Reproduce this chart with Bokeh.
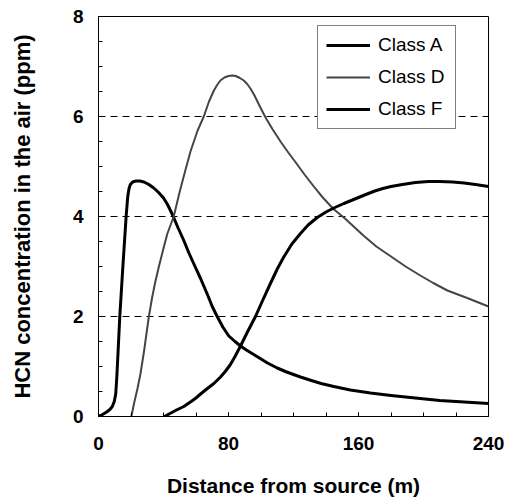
from bokeh.plotting import figure
from bokeh.models import Range1d, FixedTicker
from bokeh.embed import file_html
from bokeh.resources import INLINE

# HCN concentration in the air (ppm) versus distance from source (m),
# for three atmospheric stability classes.
dist_a = [0, 2.5, 5, 7, 8.5, 9.7, 10.6, 11.3, 12.2, 13.1, 15.0, 17.0, 18.0, 18.8,
          19.6, 21, 23, 25.4, 28, 31, 34, 37, 40, 42.3, 44, 46, 49, 52.5, 55.5,
          58.7, 62.8, 66.9, 70, 73.2, 76.5, 80.2, 84, 87.4, 91, 95, 100, 104, 110,
          115, 120, 124.3, 130, 137, 144.8, 155, 167.4, 180, 195, 210, 225, 240]
conc_a = [0, 0.04, 0.09, 0.14, 0.2, 0.3, 0.45, 0.8, 1.4, 2.0, 3.0, 4.0, 4.4, 4.56,
          4.64, 4.69, 4.71, 4.71, 4.69, 4.64, 4.57, 4.48, 4.37, 4.25, 4.14, 4.0,
          3.77, 3.52, 3.28, 3.05, 2.76, 2.45, 2.2, 1.99, 1.79, 1.61, 1.5, 1.41,
          1.33, 1.25, 1.15, 1.07, 0.97, 0.9, 0.84, 0.79, 0.73, 0.66, 0.6, 0.53,
          0.47, 0.42, 0.37, 0.32, 0.29, 0.26]

dist_d = [20.2, 22, 24, 25.8, 28, 31, 33, 35, 37.1, 39.5, 42.3, 46.3, 50, 53.5,
          56.6, 61, 64.8, 68, 71, 73, 75, 77.5, 80, 82.3, 84.5, 87, 89.4, 91.5,
          93.5, 96, 99, 102.8, 107, 112, 117, 122.3, 127, 132.5, 138, 144.6, 152,
          157, 163, 171, 180, 189, 198, 206, 214.7, 226.9, 240]
conc_d = [0, 0.28, 0.56, 0.85, 1.3, 2.0, 2.38, 2.7, 2.99, 3.3, 3.65, 4.0, 4.5,
          4.93, 5.3, 5.72, 6.0, 6.3, 6.52, 6.63, 6.72, 6.78, 6.81, 6.82, 6.81,
          6.77, 6.72, 6.65, 6.56, 6.42, 6.22, 5.98, 5.75, 5.5, 5.27, 5.04, 4.83,
          4.6, 4.38, 4.15, 3.95, 3.8, 3.62, 3.4, 3.2, 3.0, 2.82, 2.67, 2.52, 2.37,
          2.2]

dist_f = [40.6, 44, 48, 52.5, 57, 60, 62.8, 67, 71, 75.1, 78, 81, 84, 87.4, 91.5,
          96.6, 101, 105.8, 110, 114, 119, 124.3, 129, 134.6, 140, 144.8, 151, 157,
          163, 170, 175, 180, 187, 195, 203, 210, 218, 225, 232, 240]
conc_f = [0, 0.06, 0.13, 0.2, 0.3, 0.37, 0.45, 0.56, 0.66, 0.79, 0.9, 1.03, 1.2,
          1.41, 1.68, 2.0, 2.32, 2.66, 2.95, 3.19, 3.45, 3.66, 3.83, 3.98, 4.09,
          4.17, 4.26, 4.34, 4.42, 4.51, 4.56, 4.6, 4.64, 4.68, 4.7, 4.7, 4.69,
          4.67, 4.64, 4.6]

x_ticks = [0, 80, 160, 240]
y_ticks = [0, 2, 4, 6, 8]
grid_levels = [2, 4, 6]

FONT = "Liberation Sans"

p = figure(width=506, height=500, x_range=Range1d(0, 240), y_range=Range1d(0, 8),
           output_backend="svg", toolbar_location=None,
           min_border_left=98, min_border_right=18,
           min_border_top=16, min_border_bottom=84)

p.background_fill_color = "white"
p.border_fill_color = "white"
p.outline_line_color = "black"
p.outline_line_width = 1

# dashed horizontal reference lines only
p.xgrid.visible = False
p.ygrid.ticker = FixedTicker(ticks=grid_levels)
p.ygrid.grid_line_color = "black"
p.ygrid.grid_line_dash = "7 5"
p.ygrid.grid_line_width = 1

p.xaxis.ticker = FixedTicker(ticks=x_ticks, minor_ticks=list(range(0, 241, 20)))
p.yaxis.ticker = FixedTicker(ticks=y_ticks, minor_ticks=[i * 0.5 for i in range(17)])

for ax in (p.xaxis[0], p.yaxis[0]):
    ax.axis_line_color = "black"
    ax.major_tick_in = 4
    ax.major_tick_out = 0
    ax.minor_tick_in = 4
    ax.minor_tick_out = 0
    ax.major_tick_line_color = "black"
    ax.minor_tick_line_color = "black"
    ax.major_label_text_font = FONT
    ax.major_label_text_font_style = "bold"
    ax.major_label_text_font_size = "19px"
    ax.major_label_text_color = "black"
    ax.axis_label_text_font = FONT
    ax.axis_label_text_font_style = "bold"
    ax.axis_label_text_color = "black"

p.xaxis.axis_label = "Distance from source (m)"
p.yaxis.axis_label = "HCN concentration in the air (ppm)"
p.xaxis.axis_label_text_font_size = "21px"
p.yaxis.axis_label_text_font_size = "22px"
p.xaxis.major_label_standoff = 20
p.xaxis.axis_label_standoff = 21
p.yaxis.major_label_standoff = 15
p.yaxis.axis_label_standoff = 35

p.line(dist_a, conc_a, line_color="black", line_width=3, line_join="round",
       legend_label="Class A")
p.line(dist_d, conc_d, line_color="#454545", line_width=2, line_join="round",
       legend_label="Class D")
p.line(dist_f, conc_f, line_color="black", line_width=3, line_join="round",
       legend_label="Class F")

lg = p.legend[0]
lg.location = (219, 287)
lg.margin = 0
lg.padding = 8
lg.spacing = 10
lg.glyph_width = 44
lg.glyph_height = 20
lg.label_standoff = 8
lg.label_width = 69
lg.label_text_font = FONT
lg.label_text_font_size = "19px"
lg.label_text_color = "black"
lg.border_line_color = "black"
lg.border_line_width = 1
lg.background_fill_color = "white"
lg.background_fill_alpha = 1.0

open("out.html", "w").write(file_html(p, INLINE))
